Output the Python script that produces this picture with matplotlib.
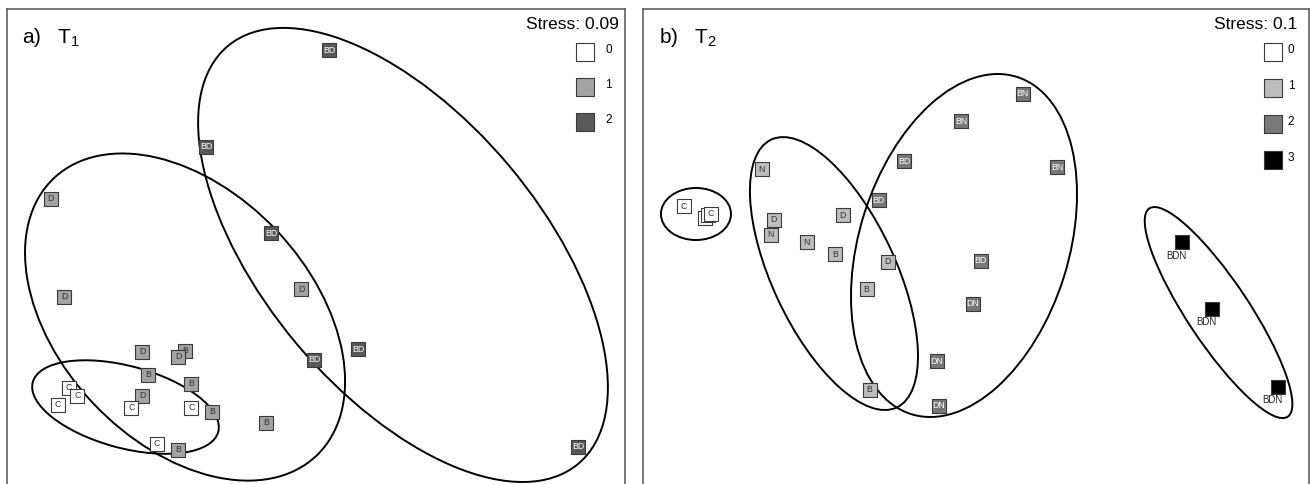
import matplotlib
matplotlib.use("Agg")
import matplotlib.pyplot as plt
from matplotlib.patches import Ellipse

plt.rcParams['font.family'] = ['Liberation Sans', 'DejaVu Sans']

# ---------------- T1 ordination ----------------
t1_labels = ['BD', 'BD', 'D', 'BD', 'D', 'D', 'BD', 'BD', 'D', 'B', 'D', 'B',
             'B', 'C', 'C', 'C', 'D', 'C', 'C', 'B', 'B', 'C', 'B', 'BD']
t1_level = [2, 2, 1, 2, 1, 1, 2, 2, 1, 1, 1, 1,
            1, 0, 0, 0, 1, 0, 0, 1, 1, 0, 1, 2]
t1_x = [0.09, -0.73, -1.77, -0.30, -1.68, -0.10, -0.01, 0.28, -1.16, -0.87, -0.92, -1.12,
        -0.83, -1.65, -1.59, -1.72, -1.16, -1.23, -0.83, -0.69, -0.33, -1.06, -0.92, 1.75]
t1_y = [1.33, 0.69, 0.34, 0.11, -0.31, -0.26, -0.73, -0.66, -0.68, -0.67, -0.71, -0.83,
        -0.89, -0.92, -0.97, -1.03, -0.97, -1.05, -1.05, -1.08, -1.15, -1.29, -1.33, -1.31]
t1_stress = 0.09
t1_levels = ['0', '1', '2']

# grouping ellipses for T1: centre, full width, full height, angle (deg)
t1_ell_cx = [-1.27, -0.873, 0.58]
t1_ell_cy = [-1.047, -0.447, -0.033]
t1_ell_w = [1.28, 2.547, 3.635]
t1_ell_h = [0.547, 1.68, 1.848]
t1_ell_ang = [-15, -46.6, -50]

# ---------------- T2 ordination ----------------
t2_labels = ['C', 'C', 'C', 'C', 'N', 'D', 'N', 'N', 'B', 'D', 'D', 'B', 'B',
             'BD', 'BD', 'BN', 'BN', 'BN', 'BD', 'DN', 'DN', 'DN', 'BDN', 'BDN', 'BDN']
t2_level = [0, 0, 0, 0, 1, 1, 1, 1, 1, 1, 1, 1, 1,
            2, 2, 2, 2, 2, 2, 2, 2, 2, 3, 3, 3]
t2_x = [-1.95, -1.81, -1.79, -1.77, -1.43, -1.35, -1.37, -1.13, -0.94, -0.89, -0.59, -0.73, -0.71,
        -0.65, -0.48, -0.10, 0.31, 0.54, 0.03, -0.02, -0.26, -0.25, 1.37, 1.57, 2.01]
t2_y = [0.29, 0.21, 0.23, 0.24, 0.54, 0.20, 0.10, 0.05, -0.03, 0.23, -0.08, -0.26, -0.93,
        0.33, 0.59, 0.86, 1.04, 0.55, -0.07, -0.36, -0.74, -1.04, 0.05, -0.39, -0.91]
t2_stress = 0.1
t2_levels = ['0', '1', '2', '3']

t2_ell_cx = [-1.867, -0.947, -0.08, 1.617]
t2_ell_cy = [0.24, -0.157, 0.03, -0.417]
t2_ell_w = [0.467, 1.972, 2.356, 1.667]
t2_ell_h = [0.347, 0.823, 1.396, 0.413]
t2_ell_ang = [0, -64.9, 72.6, -56.4]

# ---------------- figure layout (pixel based) ----------------
W, H = 1312, 484
fig = plt.figure(figsize=(W / 100, H / 100), dpi=100)
SCALE = 150.0       # pixels per ordination unit
TOP_PX, BOT_PX = 9, 493


def make_axes(left_px, right_px):
    ax = fig.add_axes([left_px / W, (H - BOT_PX) / H,
                       (right_px - left_px) / W, (BOT_PX - TOP_PX) / H])
    half_w = (right_px - left_px) / 2 / SCALE
    ax.set_xlim(-half_w, half_w)
    ax.set_ylim((250 - BOT_PX) / SCALE, (250 - TOP_PX) / SCALE)
    ax.set_xticks([])
    ax.set_yticks([])
    for s in ax.spines.values():
        s.set_color('#555555')
        s.set_linewidth(1.1)
    return ax


def draw_panel(ax, labels, level, xs, ys, colors, ecx, ecy, ew, eh, eang,
               tag, sub, stress, levels, stress_x, leg_x, leg_lx, leg_step):
    for cx, cy, w, h, a in zip(ecx, ecy, ew, eh, eang):
        ax.add_patch(Ellipse((cx, cy), w, h, angle=a, fill=False,
                             edgecolor='black', linewidth=1.4, zorder=2))
    for i, (lab, lv, x, y) in enumerate(zip(labels, level, xs, ys)):
        z = 3 + i * 0.01
        ax.scatter([x], [y], marker='s', s=105, c=colors[lv],
                   edgecolors='#3a3a3a', linewidths=0.8, zorder=z)
        if lv == 3:
            ax.annotate(lab, (x, y), xytext=(-3.5, -10), textcoords='offset points',
                        ha='center', va='center', fontsize=7, color='#222222',
                        zorder=z + 0.005)
        else:
            tc = 'white' if lv >= 2 else '#333333'
            ax.text(x, y, lab, ha='center', va='center', fontsize=6.3,
                    color=tc, zorder=z + 0.005)
    ax.text(0.024, 0.93, tag + '   $\\mathregular{T_{%s}}$' % sub,
            transform=ax.transAxes, fontsize=15, va='baseline', ha='left')
    ax.text(stress_x, 0.967, 'Stress: %g' % stress, transform=ax.transAxes,
            fontsize=12.5, ha='right', va='center')
    for k, lv in enumerate(levels):
        yk = 0.911 - k * leg_step
        ax.scatter([leg_x], [yk], marker='s', s=150, c=colors[int(lv)],
                   edgecolors='#3a3a3a', linewidths=0.8,
                   transform=ax.transAxes, zorder=5, clip_on=False)
        ax.text(leg_lx, yk + 0.004, lv, transform=ax.transAxes, fontsize=8.5,
                ha='left', va='center')


ax1 = make_axes(7, 625)
draw_panel(ax1, t1_labels, t1_level, t1_x, t1_y,
           {0: 'white', 1: '#a3a3a3', 2: '#595959'},
           t1_ell_cx, t1_ell_cy, t1_ell_w, t1_ell_h, t1_ell_ang,
           'a)', '1', t1_stress, t1_levels,
           stress_x=0.990, leg_x=0.935, leg_lx=0.968, leg_step=0.0723)

ax2 = make_axes(643, 1309)
draw_panel(ax2, t2_labels, t2_level, t2_x, t2_y,
           {0: 'white', 1: '#bdbdbd', 2: '#787878', 3: 'black'},
           t2_ell_cx, t2_ell_cy, t2_ell_w, t2_ell_h, t2_ell_ang,
           'b)', '2', t2_stress, t2_levels,
           stress_x=0.983, leg_x=0.946, leg_lx=0.968, leg_step=0.0745)

fig.savefig('out.png', dpi=100)
